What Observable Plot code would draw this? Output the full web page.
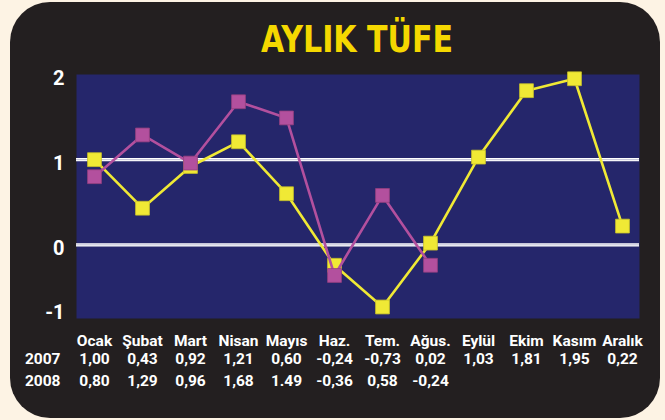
<!DOCTYPE html>
<html>
<head>
<meta charset="utf-8">
<script src="https://cdn.jsdelivr.net/npm/d3@7"></script>
<script src="https://cdn.jsdelivr.net/npm/@observablehq/plot@0.6"></script>
<style>
  html, body { margin: 0; padding: 0; width: 665px; height: 420px; overflow: hidden; background: #fdf3e4; }
  #panel { position: absolute; left: 10px; top: 2px; width: 650px; height: 416px; background: #231f20; border-radius: 40px; }
  #title { position: absolute; left: 76px; width: 563px; top: 20px; text-align: center; line-height: 1;
           font-family: "DejaVu Sans Condensed", "DejaVu Sans", sans-serif; font-weight: bold;
           font-size: 38px; color: #f5d800; }
  #title span { display: inline-block; transform: scaleX(0.88); transform-origin: center; }
  #chart { position: absolute; left: 0; top: 60px; }
</style>
</head>
<body>
<div id="panel"></div>
<div id="title"><span>AYLIK TÜFE</span></div>
<div id="chart"></div>
<script>
const months = ["Ocak", "Şubat", "Mart", "Nisan", "Mayıs", "Haz.", "Tem.", "Ağus.", "Eylül", "Ekim", "Kasım", "Aralık"];
const values2007 = [1.00, 0.43, 0.92, 1.21, 0.60, -0.24, -0.73, 0.02, 1.03, 1.81, 1.95, 0.22];
const values2008 = [0.80, 1.29, 0.96, 1.68, 1.49, -0.36, 0.58, -0.24];
const labels2007 = ["1,00", "0,43", "0,92", "1,21", "0,60", "-0,24", "-0,73", "0,02", "1,03", "1,81", "1,95", "0,22"];
const labels2008 = ["0,80", "1,29", "0,96", "1,68", "1.49", "-0,36", "0,58", "-0,24"];
const series = ["2007", "2008"];
const yTicks = [-1, 0, 1, 2];

const yellow = "#f0e935";
const magenta = "#b3509e";

const d2007 = values2007.map((v, i) => ({month: months[i], value: v}));
const d2008 = values2008.map((v, i) => ({month: months[i], value: v}));

const font = 15.5;

const plot = Plot.plot({
  width: 665,
  height: 360,
  marginTop: 14,
  marginBottom: 102,
  marginLeft: 76,
  marginRight: 26,
  style: {background: "transparent", color: "white", fontFamily: "Roboto, sans-serif", fontWeight: "bold", overflow: "visible"},
  x: {type: "point", domain: months, padding: 0.33, label: null},
  y: {domain: [-0.865, 2], clamp: true, label: null},
  marks: [
    Plot.frame({fill: "#25266b", stroke: "none"}),
    Plot.ruleY([0, 1], {stroke: "white", strokeWidth: 3.2}),
    Plot.ruleY([0, 1], {stroke: "#a6a6c4", strokeWidth: 0.7}),
    Plot.axisY({ticks: yTicks.filter(t => t >= 0), tickSize: 0, tickPadding: 12, dy: 4, fontSize: 20, fill: "white", label: null, tickFormat: d => String(d)}),
    Plot.axisY({ticks: yTicks.filter(t => t < 0), tickSize: 0, tickPadding: 12, dy: -6, fontSize: 20, fill: "white", label: null, tickFormat: d => String(d)}),
    Plot.axisX({tickSize: 0, tickPadding: 16, fontSize: font, fill: "white", label: null}),
    Plot.line(d2007, {x: "month", y: "value", stroke: yellow, strokeWidth: 2.6}),
    Plot.dot(d2007, {x: "month", y: "value", symbol: "square", r: 7.8, fill: yellow, stroke: "#c8c22a", strokeWidth: 0.8}),
    Plot.line(d2008, {x: "month", y: "value", stroke: magenta, strokeWidth: 2.6}),
    Plot.dot(d2008, {x: "month", y: "value", symbol: "square", r: 7.8, fill: magenta, stroke: "#94407f", strokeWidth: 0.8}),
    Plot.text(d2007, {x: "month", text: (d, i) => labels2007[i], frameAnchor: "bottom", dy: 45, fill: "white", fontSize: font}),
    Plot.text(d2008, {x: "month", text: (d, i) => labels2008[i], frameAnchor: "bottom", dy: 67, fill: "white", fontSize: font}),
    Plot.text([series[0]], {text: d => d, frameAnchor: "bottom-left", dx: -16, dy: 45, textAnchor: "end", fill: "white", fontSize: font}),
    Plot.text([series[1]], {text: d => d, frameAnchor: "bottom-left", dx: -16, dy: 67, textAnchor: "end", fill: "white", fontSize: font})
  ]
});
document.getElementById("chart").appendChild(plot);
</script>
</body>
</html>
